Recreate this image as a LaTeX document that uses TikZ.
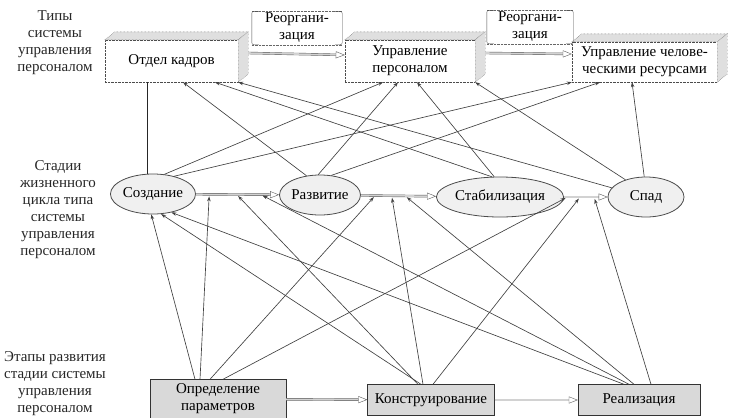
\documentclass[tikz,border=0pt]{standalone}
\usepackage{fontspec}
\setmainfont{Liberation Serif}
\newfontfamily\scanfont{Liberation Serif}
\usepackage{tikz}
\usetikzlibrary{shapes,arrows,arrows.meta,positioning,calc}

\begin{document}
\begin{tikzpicture}[x=1pt, y=-1pt, font=\scanfont\fontsize{15}{17}\selectfont,
        typebox/.style={rectangle, draw=black!70, densely dotted, fill=white, minimum height=42pt, align=center, inner sep=1pt},
        face/.style={draw=black!70, densely dotted, fill=gray!25},
        stage/.style={ellipse, draw=black!70, thick, fill=gray!12, minimum height=40pt, inner sep=0pt},
        phase/.style={rectangle, draw=black!80, fill=gray!30, minimum height=31pt, align=center, inner sep=1pt},
        reorg/.style={rectangle, minimum height=33pt, align=center, inner sep=1pt},
        side/.style={align=center, text=black!85},
        link/.style={-{Stealth[length=5pt,width=3.5pt]}, draw=black!75, line width=0.65pt},
        trans/.style={draw=black!65, double=gray!35, double distance=1.6pt, -{Triangle[open,length=9pt,width=7pt]}}]

        \useasboundingbox (0,0) rectangle (729,418);

        % row labels
        \node[side] (ltype) at (55,43) {Типы\\системы\\управления\\персоналом};
        \node[side] (lstage) at (58,210) {Стадии\\жизненного\\цикла типа\\системы\\управления\\персоналом};
        \node[side] (lphase) at (55,384) {Этапы развития\\стадии системы\\управления\\персоналом};

        % types
        \node[typebox, minimum width=133pt] (kadry) at (171.5,61) {Отдел кадров};
        \node[typebox, minimum width=130pt] (upr) at (410,61) {Управление\\персоналом};
        \node[typebox, minimum width=145pt, minimum height=40pt] (chr) at (644.5,62) {Управление челове-\\ческими ресурсами};
        \foreach \n in {kadry,upr,chr} {
            \draw[face] (\n.north west) -- ++(10,-8) -- ($(\n.north east)+(10,-8)$) -- (\n.north east) -- cycle;
            \draw[face] (\n.north east) -- ++(10,-8) -- ($(\n.south east)+(10,-8)$) -- (\n.south east) -- cycle;
        }

        \node[reorg, minimum width=90pt] (reorgA) at (297,28) {Реоргани-\\зация};
        \node[reorg, minimum width=86pt] (reorgB) at (530,27) {Реоргани-\\зация};
        \foreach \n in {reorgA,reorgB} {
            \draw[black!60, densely dotted] (\n.north west) -- (\n.north east);
            \draw[black!60, densely dotted] (\n.south west) -- (\n.south east);
            \draw[black!70, rounded corners=2pt] ([xshift=7pt]\n.north west) -- (\n.north west) -- (\n.south west) -- ([xshift=7pt]\n.south west);
            \draw[black!70, rounded corners=2pt] ([xshift=-7pt]\n.north east) -- (\n.north east) -- (\n.south east) -- ([xshift=-7pt]\n.south east);
        }

        \draw[trans] ([xshift=10pt,yshift=8pt]kadry.east) -- ([yshift=6pt]upr.west);
        \draw[trans] ([xshift=10pt,yshift=8pt]upr.east) -- ([yshift=8pt]chr.west);

        % stages
        \node[stage, minimum width=80pt] (sozd) at (153,194) {Создание};
        \node[stage, minimum width=75pt] (razv) at (320,195) {Развитие};
        \node[stage, minimum width=114pt] (stab) at (500,197) {Стабилизация};
        \node[stage, minimum width=76pt] (spad) at (646,197) {Спад};

        \draw[trans] (sozd) -- coordinate[pos=.16] (t1a) coordinate[pos=.49] (t1b) coordinate[pos=.78] (t1c) (razv);
        \draw[trans] (razv) -- coordinate[pos=.19] (t2a) coordinate[pos=.41] (t2b) coordinate[pos=.59] (t2c) (stab);
        \draw[trans] (stab) -- coordinate[pos=.08] (t3a) coordinate[pos=.37] (t3b) coordinate[pos=.69] (t3c) (spad);

        % phases
        \node[phase, minimum width=136pt, minimum height=39pt] (opr) at (218,399) {Определение\\параметров};
        \node[phase, minimum width=127pt] (konstr) at (431,400) {Конструирование};
        \node[phase, minimum width=122pt] (realiz) at (639,400) {Реализация};

        \draw[trans] (opr) -- (konstr);
        \draw[trans] (konstr) -- (realiz);

        % stages -> types
        \coordinate (vert) at ([xshift=-6pt]sozd.north);
        \draw[black!85, thick] (vert) -- (vert |- kadry.south);
        \draw[link] (sozd.60) -- ([xshift=-27pt]upr.south);
        \draw[link] (sozd.40) -- (chr.south west);
        \draw[link] (razv.125) -- ([xshift=11.5pt]kadry.south);
        \draw[link] (razv.95) -- ([xshift=-12pt]upr.south);
        \draw[link] (razv.60) -- ([xshift=-44.5pt]chr.south);
        \draw[link] (stab.112) -- ([xshift=43.5pt]kadry.south);
        \draw[link] (stab.106) -- ([xshift=7pt]upr.south);
        \draw[link] (spad.165) -- (kadry.south east);
        \draw[link] (spad.140) -- (upr.south east);
        \draw[link] (spad.95) -- ([xshift=-12.5pt]chr.south);

        % phases -> stages
        \draw[link] ([xshift=-23pt]opr.north) -- (sozd.-95);
        \draw[link, shorten >=2pt] ([xshift=-18pt]opr.north) -- (t1a);
        \draw[link, shorten >=2pt] ([xshift=-8pt]opr.north) -- (t2a);
        \draw[link, shorten >=2pt] ([xshift=5pt]opr.north) -- (t3a);
        \draw[link] ([xshift=-10pt]konstr.north) -- (sozd.-68);
        \draw[link, shorten >=2pt] ([xshift=-13pt]konstr.north) -- (t1b);
        \draw[link, shorten >=2pt] ([xshift=-8pt]konstr.north) -- (t2b);
        \draw[link, shorten >=2pt] ([xshift=2pt]konstr.north) -- (t3b);
        \draw[link] ([xshift=-15pt]realiz.north) -- (sozd.-45);
        \draw[link, shorten >=2pt] ([xshift=-10pt]realiz.north) -- (t1c);
        \draw[link, shorten >=2pt] ([xshift=-5pt]realiz.north) -- (t2c);
        \draw[link, shorten >=2pt] ([xshift=12pt]realiz.north) -- (t3c);
    \end{tikzpicture}
\end{document}
